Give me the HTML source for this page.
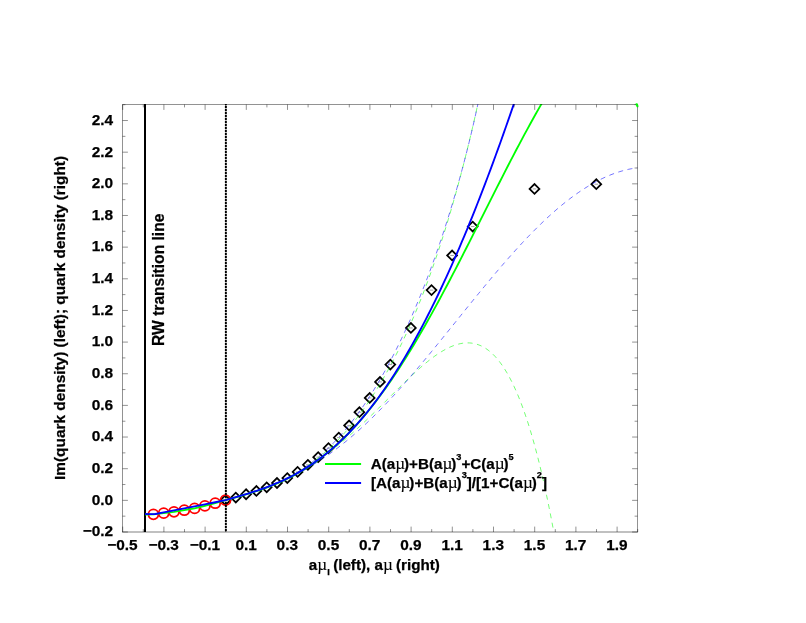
<!DOCTYPE html>
<html><head><meta charset="utf-8"><title>plot</title>
<style>
html,body{margin:0;padding:0;background:#fff;}
body{width:806px;height:623px;overflow:hidden;font-family:"Liberation Sans",sans-serif;}
svg{display:block;}
text{font-family:"Liberation Sans",sans-serif;font-weight:bold;font-size:15.4px;fill:#000;stroke:#000;stroke-width:0.25px;}
.lg{font-size:15.2px;}
.rw{font-size:15.6px;}
svg{will-change:transform;}
.mu{font-family:"Liberation Serif",serif;font-weight:normal;font-size:17.2px;letter-spacing:-1.1px;stroke-width:0.1px;}
.sup{font-size:9.2px;}
</style></head><body>
<svg width="806" height="623" viewBox="0 0 806 623">
<rect width="806" height="623" fill="#fff"/>
<defs><clipPath id="c"><rect x="122.5" y="104.0" width="515.0" height="427.8"/></clipPath></defs>
<g fill="none" stroke="#000" stroke-width="1.75">
<path d="M220.60,500.15 L225.50,495.25 L230.40,500.15 L225.50,505.05 Z"/>
<path d="M230.90,497.52 L235.80,492.62 L240.70,497.52 L235.80,502.42 Z"/>
<path d="M241.20,494.25 L246.10,489.35 L251.00,494.25 L246.10,499.15 Z"/>
<path d="M251.50,490.97 L256.40,486.07 L261.30,490.97 L256.40,495.87 Z"/>
<path d="M261.80,487.30 L266.70,482.40 L271.60,487.30 L266.70,492.20 Z"/>
<path d="M272.10,482.99 L277.00,478.09 L281.90,482.99 L277.00,487.89 Z"/>
<path d="M282.40,478.06 L287.30,473.16 L292.20,478.06 L287.30,482.96 Z"/>
<path d="M292.70,471.90 L297.60,467.00 L302.50,471.90 L297.60,476.80 Z"/>
<path d="M303.00,464.84 L307.90,459.94 L312.80,464.84 L307.90,469.74 Z"/>
<path d="M313.30,457.13 L318.20,452.23 L323.10,457.13 L318.20,462.03 Z"/>
<path d="M323.60,448.14 L328.50,443.24 L333.40,448.14 L328.50,453.04 Z"/>
<path d="M333.90,437.64 L338.80,432.74 L343.70,437.64 L338.80,442.54 Z"/>
<path d="M344.20,425.43 L349.10,420.53 L354.00,425.43 L349.10,430.33 Z"/>
<path d="M354.50,412.20 L359.40,407.30 L364.30,412.20 L359.40,417.10 Z"/>
<path d="M364.80,397.93 L369.70,393.03 L374.60,397.93 L369.70,402.83 Z"/>
<path d="M375.10,381.93 L380.00,377.03 L384.90,381.93 L380.00,386.83 Z"/>
<path d="M385.40,364.58 L390.30,359.68 L395.20,364.58 L390.30,369.48 Z"/>
<path d="M406.00,327.96 L410.90,323.06 L415.80,327.96 L410.90,332.86 Z"/>
<path d="M426.60,290.11 L431.50,285.21 L436.40,290.11 L431.50,295.01 Z"/>
<path d="M447.20,255.48 L452.10,250.58 L457.00,255.48 L452.10,260.38 Z"/>
<path d="M467.80,226.52 L472.70,221.62 L477.60,226.52 L472.70,231.42 Z"/>
<path d="M529.60,188.93 L534.50,184.03 L539.40,188.93 L534.50,193.83 Z"/>
<path d="M591.40,184.20 L596.30,179.30 L601.20,184.20 L596.30,189.10 Z"/>
</g>
<g stroke="#555" stroke-width="0.55">
<line x1="223.70" y1="500.15" x2="227.30" y2="500.15"/>
<line x1="234.00" y1="497.52" x2="237.60" y2="497.52"/>
<line x1="244.30" y1="494.25" x2="247.90" y2="494.25"/>
<line x1="254.60" y1="490.97" x2="258.20" y2="490.97"/>
<line x1="264.90" y1="487.30" x2="268.50" y2="487.30"/>
<line x1="275.20" y1="482.99" x2="278.80" y2="482.99"/>
<line x1="285.50" y1="478.06" x2="289.10" y2="478.06"/>
<line x1="295.80" y1="471.90" x2="299.40" y2="471.90"/>
<line x1="306.10" y1="464.84" x2="309.70" y2="464.84"/>
<line x1="316.40" y1="457.13" x2="320.00" y2="457.13"/>
<line x1="326.70" y1="448.14" x2="330.30" y2="448.14"/>
<line x1="337.00" y1="437.64" x2="340.60" y2="437.64"/>
<line x1="347.30" y1="425.43" x2="350.90" y2="425.43"/>
<line x1="357.60" y1="412.20" x2="361.20" y2="412.20"/>
<line x1="367.90" y1="397.93" x2="371.50" y2="397.93"/>
<line x1="378.20" y1="381.93" x2="381.80" y2="381.93"/>
<line x1="388.50" y1="364.58" x2="392.10" y2="364.58"/>
<line x1="409.10" y1="327.96" x2="412.70" y2="327.96"/>
<line x1="429.70" y1="290.11" x2="433.30" y2="290.11"/>
<line x1="450.30" y1="255.48" x2="453.90" y2="255.48"/>
<line x1="470.90" y1="226.52" x2="474.50" y2="226.52"/>
<line x1="532.70" y1="188.93" x2="536.30" y2="188.93"/>
<line x1="594.50" y1="184.20" x2="598.10" y2="184.20"/>
</g>
<g fill="none" stroke="#ff0000" stroke-width="1.8">
<circle cx="153.40" cy="514.31" r="5.0"/>
<circle cx="163.70" cy="513.13" r="5.0"/>
<circle cx="174.00" cy="511.81" r="5.0"/>
<circle cx="184.30" cy="510.21" r="5.0"/>
<circle cx="194.60" cy="508.41" r="5.0"/>
<circle cx="204.90" cy="505.91" r="5.0"/>
<circle cx="215.20" cy="503.22" r="5.0"/>
<circle cx="225.50" cy="500.15" r="5.0"/>
</g>
<line x1="145" y1="104.0" x2="145" y2="532.1" stroke="#000" stroke-width="2"/>
<line x1="225.85" y1="104.5" x2="225.85" y2="532.1" stroke="#000" stroke-opacity="0.3" stroke-width="1.7"/>
<line x1="225.85" y1="104" x2="225.85" y2="532.1" stroke="#000" stroke-width="1.9" stroke-dasharray="2.2 0.8" stroke-dashoffset="1.1"/>
<g clip-path="url(#c)" fill="none">
<path d="M287.30,477.97 L289.03,477.07 L290.76,476.15 L292.49,475.20 L294.22,474.23 L295.96,473.23 L297.69,472.21 L299.42,471.16 L301.15,470.09 L302.88,468.99 L304.61,467.86 L306.34,466.71 L308.07,465.52 L309.80,464.31 L311.54,463.07 L313.27,461.80 L315.00,460.49 L316.73,459.16 L318.46,457.79 L320.19,456.39 L321.92,454.96 L323.65,453.49 L325.38,451.99 L327.12,450.46 L328.85,448.89 L330.58,447.29 L332.31,445.65 L334.04,443.97 L335.77,442.25 L337.50,440.50 L339.23,438.71 L340.96,436.88 L342.69,435.01 L344.43,433.10 L346.16,431.15 L347.89,429.16 L349.62,427.13 L351.35,425.05 L353.08,422.93 L354.81,420.77 L356.54,418.57 L358.27,416.32 L360.01,414.02 L361.74,411.68 L363.47,409.30 L365.20,406.86 L366.93,404.38 L368.66,401.85 L370.39,399.27 L372.12,396.65 L373.85,393.97 L375.59,391.24 L377.32,388.46 L379.05,385.63 L380.78,382.74 L382.51,379.80 L384.24,376.81 L385.97,373.76 L387.70,370.66 L389.43,367.50 L391.17,364.28 L392.90,361.01 L394.63,357.67 L396.36,354.28 L398.09,350.82 L399.82,347.31 L401.55,343.73 L403.28,340.09 L405.01,336.38 L406.75,332.61 L408.48,328.77 L410.21,324.86 L411.94,320.89 L413.67,316.84 L415.40,312.73 L417.13,308.54 L418.86,304.28 L420.59,299.95 L422.33,295.54 L424.06,291.05 L425.79,286.49 L427.52,281.84 L429.25,277.12 L430.98,272.31 L432.71,267.42 L434.44,262.44 L436.17,257.38 L437.91,252.23 L439.64,246.98 L441.37,241.65 L443.10,236.22 L444.83,230.70 L446.56,225.07 L448.29,219.35 L450.02,213.53 L451.75,207.60 L453.48,201.57 L455.22,195.43 L456.95,189.18 L458.68,182.82 L460.41,176.35 L462.14,169.75 L463.87,163.04 L465.60,156.20 L467.33,149.24 L469.06,142.16 L470.80,134.94 L472.53,127.59 L474.26,120.10 L475.99,112.47 L477.72,104.70 L479.45,96.79 L481.18,88.72 L482.91,80.51 L484.64,72.14 L486.38,63.61 L488.11,54.91 L489.84,46.05 L491.57,37.02 L493.30,27.81" stroke="#00ff00" stroke-dashoffset="4.75" stroke-dasharray="5 4.5" stroke-width="0.55"/>
<path d="M287.30,477.79 L289.64,476.64 L291.97,475.47 L294.31,474.26 L296.65,473.01 L298.98,471.74 L301.32,470.43 L303.66,469.09 L306.00,467.71 L308.33,466.29 L310.67,464.85 L313.01,463.36 L315.34,461.84 L317.68,460.29 L320.02,458.69 L322.35,457.07 L324.69,455.40 L327.03,453.70 L329.37,451.96 L331.70,450.19 L334.04,448.39 L336.38,446.54 L338.71,444.67 L341.05,442.76 L343.39,440.81 L345.72,438.84 L348.06,436.83 L350.40,434.79 L352.74,432.72 L355.07,430.62 L357.41,428.50 L359.75,426.35 L362.08,424.17 L364.42,421.97 L366.76,419.75 L369.09,417.51 L371.43,415.24 L373.77,412.96 L376.11,410.67 L378.44,408.36 L380.78,406.04 L383.12,403.72 L385.45,401.38 L387.79,399.05 L390.13,396.71 L392.46,394.37 L394.80,392.03 L397.14,389.71 L399.47,387.39 L401.81,385.09 L404.15,382.80 L406.49,380.53 L408.82,378.29 L411.16,376.07 L413.50,373.89 L415.83,371.74 L418.17,369.62 L420.51,367.55 L422.84,365.53 L425.18,363.56 L427.52,361.65 L429.86,359.79 L432.19,358.01 L434.53,356.29 L436.87,354.65 L439.20,353.09 L441.54,351.62 L443.88,350.24 L446.21,348.96 L448.55,347.78 L450.89,346.71 L453.23,345.76 L455.56,344.94 L457.90,344.24 L460.24,343.68 L462.57,343.26 L464.91,342.99 L467.25,342.88 L469.58,342.93 L471.92,343.15 L474.26,343.56 L476.59,344.15 L478.93,344.94 L481.27,345.93 L483.61,347.14 L485.94,348.56 L488.28,350.22 L490.62,352.11 L492.95,354.25 L495.29,356.65 L497.63,359.32 L499.96,362.26 L502.30,365.49 L504.64,369.02 L506.98,372.85 L509.31,377.00 L511.65,381.48 L513.99,386.30 L516.32,391.46 L518.66,396.99 L521.00,402.89 L523.33,409.18 L525.67,415.86 L528.01,422.95 L530.35,430.46 L532.68,438.41 L535.02,446.80 L537.36,455.65 L539.69,464.97 L542.03,474.78 L544.37,485.08 L546.70,495.90 L549.04,507.25 L551.38,519.14 L553.72,531.59 L556.05,544.60 L558.39,558.20 L560.73,572.41 L563.06,587.23 L565.40,602.68" stroke="#00ff00" stroke-dasharray="5 4.5" stroke-width="0.55"/>
<path d="M287.30,478.23 L289.03,477.30 L290.76,476.34 L292.49,475.36 L294.22,474.34 L295.96,473.30 L297.69,472.24 L299.42,471.14 L301.15,470.01 L302.88,468.86 L304.61,467.67 L306.34,466.46 L308.07,465.21 L309.80,463.93 L311.54,462.61 L313.27,461.27 L315.00,459.89 L316.73,458.48 L318.46,457.03 L320.19,455.55 L321.92,454.03 L323.65,452.48 L325.38,450.89 L327.12,449.26 L328.85,447.59 L330.58,445.89 L332.31,444.15 L334.04,442.37 L335.77,440.55 L337.50,438.70 L339.23,436.80 L340.96,434.86 L342.69,432.88 L344.43,430.86 L346.16,428.80 L347.89,426.70 L349.62,424.55 L351.35,422.37 L353.08,420.14 L354.81,417.86 L356.54,415.54 L358.27,413.18 L360.01,410.77 L361.74,408.32 L363.47,405.82 L365.20,403.28 L366.93,400.69 L368.66,398.05 L370.39,395.37 L372.12,392.64 L373.85,389.86 L375.59,387.04 L377.32,384.16 L379.05,381.24 L380.78,378.27 L382.51,375.24 L384.24,372.17 L385.97,369.05 L387.70,365.87 L389.43,362.65 L391.17,359.37 L392.90,356.04 L394.63,352.66 L396.36,349.22 L398.09,345.73 L399.82,342.19 L401.55,338.59 L403.28,334.93 L405.01,331.22 L406.75,327.45 L408.48,323.62 L410.21,319.73 L411.94,315.79 L413.67,311.78 L415.40,307.71 L417.13,303.58 L418.86,299.39 L420.59,295.14 L422.33,290.81 L424.06,286.43 L425.79,281.97 L427.52,277.45 L429.25,272.85 L430.98,268.19 L432.71,263.45 L434.44,258.64 L436.17,253.75 L437.91,248.78 L439.64,243.73 L441.37,238.59 L443.10,233.38 L444.83,228.07 L446.56,222.67 L448.29,217.18 L450.02,211.59 L451.75,205.91 L453.48,200.11 L455.22,194.21 L456.95,188.20 L458.68,182.07 L460.41,175.81 L462.14,169.43 L463.87,162.91 L465.60,156.25 L467.33,149.44 L469.06,142.47 L470.80,135.34 L472.53,128.02 L474.26,120.52 L475.99,112.82 L477.72,104.90 L479.45,96.75 L481.18,88.36 L482.91,79.70 L484.64,70.75 L486.38,61.48 L488.11,51.88 L489.84,41.90 L491.57,31.52 L493.30,20.68" stroke="#0000ff" stroke-dasharray="5 4.5" stroke-width="0.55"/>
<path d="M287.30,478.49 L290.24,477.11 L293.19,475.69 L296.13,474.22 L299.07,472.70 L302.01,471.13 L304.96,469.51 L307.90,467.84 L310.84,466.12 L313.79,464.35 L316.73,462.52 L319.67,460.64 L322.61,458.70 L325.56,456.71 L328.50,454.66 L331.44,452.56 L334.39,450.40 L337.33,448.18 L340.27,445.91 L343.21,443.58 L346.16,441.20 L349.10,438.76 L352.04,436.27 L354.99,433.72 L357.93,431.12 L360.87,428.46 L363.81,425.76 L366.76,423.00 L369.70,420.19 L372.64,417.32 L375.59,414.42 L378.53,411.46 L381.47,408.45 L384.41,405.40 L387.36,402.31 L390.30,399.17 L393.24,395.99 L396.19,392.78 L399.13,389.52 L402.07,386.22 L405.01,382.89 L407.96,379.53 L410.90,376.14 L413.84,372.71 L416.79,369.26 L419.73,365.77 L422.67,362.27 L425.61,358.74 L428.56,355.19 L431.50,351.62 L434.44,348.03 L437.39,344.43 L440.33,340.82 L443.27,337.19 L446.21,333.55 L449.16,329.91 L452.10,326.26 L455.04,322.61 L457.99,318.96 L460.93,315.30 L463.87,311.66 L466.81,308.01 L469.76,304.37 L472.70,300.75 L475.64,297.13 L478.59,293.53 L481.53,289.94 L484.47,286.37 L487.41,282.81 L490.36,279.28 L493.30,275.78 L496.24,272.29 L499.19,268.84 L502.13,265.41 L505.07,262.02 L508.01,258.66 L510.96,255.33 L513.90,252.04 L516.84,248.78 L519.79,245.57 L522.73,242.40 L525.67,239.28 L528.61,236.20 L531.56,233.16 L534.50,230.18 L537.44,227.25 L540.39,224.37 L543.33,221.54 L546.27,218.77 L549.21,216.05 L552.16,213.40 L555.10,210.80 L558.04,208.27 L560.99,205.80 L563.93,203.39 L566.87,201.05 L569.81,198.78 L572.76,196.57 L575.70,194.44 L578.64,192.38 L581.59,190.39 L584.53,188.47 L587.47,186.63 L590.41,184.86 L593.36,183.17 L596.30,181.56 L599.24,180.03 L602.19,178.58 L605.13,177.21 L608.07,175.92 L611.01,174.71 L613.96,173.59 L616.90,172.56 L619.84,171.61 L622.79,170.75 L625.73,169.97 L628.67,169.29 L631.61,168.69 L634.56,168.19 L637.50,167.77" stroke="#0000ff" stroke-dasharray="5 4.5" stroke-width="0.55"/>
<path d="M145.16,514.47 L153.40,514.31 L163.70,513.13 L174.00,511.81 L184.30,510.21 L194.60,508.41 L204.90,505.91 L215.20,503.22 L225.50,500.15 L225.50,500.15 L228.27,499.39 L231.04,498.62 L233.81,497.85 L236.58,497.08 L239.35,496.29 L242.12,495.49 L244.89,494.68 L247.66,493.84 L250.43,492.99 L253.20,492.12 L255.97,491.22 L258.74,490.30 L261.51,489.35 L264.28,488.36 L267.05,487.34 L269.82,486.29 L272.59,485.20 L275.36,484.06 L278.13,482.89 L280.89,481.67 L283.66,480.40 L286.43,479.09 L289.20,477.72 L291.97,476.31 L294.74,474.83 L297.51,473.31 L300.28,471.72 L303.05,470.07 L305.82,468.37 L308.59,466.60 L311.36,464.76 L314.13,462.87 L316.90,460.90 L319.67,458.86 L322.44,456.76 L325.21,454.58 L327.98,452.34 L330.75,450.02 L333.52,447.62 L336.29,445.15 L339.06,442.61 L341.83,439.99 L344.60,437.29 L347.37,434.52 L350.14,431.66 L352.91,428.73 L355.68,425.72 L358.45,422.63 L361.22,419.46 L363.99,416.21 L366.76,412.89 L369.53,409.48 L372.30,406.00 L375.07,402.43 L377.84,398.79 L380.61,395.07 L383.38,391.27 L386.15,387.40 L388.92,383.45 L391.68,379.43 L394.45,375.33 L397.22,371.16 L399.99,366.91 L402.76,362.60 L405.53,358.21 L408.30,353.76 L411.07,349.24 L413.84,344.66 L416.61,340.01 L419.38,335.30 L422.15,330.53 L424.92,325.70 L427.69,320.81 L430.46,315.87 L433.23,310.88 L436.00,305.84 L438.77,300.75 L441.54,295.61 L444.31,290.43 L447.08,285.22 L449.85,279.96 L452.62,274.66 L455.39,269.34 L458.16,263.98 L460.93,258.60 L463.70,253.19 L466.47,247.76 L469.24,242.31 L472.01,236.84 L474.78,231.36 L477.55,225.87 L480.32,220.38 L483.09,214.88 L485.86,209.38 L488.63,203.89 L491.40,198.40 L494.17,192.92 L496.94,187.45 L499.71,182.00 L502.47,176.57 L505.24,171.16 L508.01,165.77 L510.78,160.42 L513.55,155.09 L516.32,149.80 L519.09,144.56 L521.86,139.35 L524.63,134.18 L527.40,129.07 L530.17,124.01 L532.94,119.00 L535.71,114.04 L538.48,109.15 L541.25,104.32 L544.02,99.56 L546.79,94.86 L549.56,90.23 L552.33,85.68 L555.10,81.20" stroke="#00ff00" stroke-width="1.85" stroke-linejoin="round"/>
<path d="M145.16,514.01 L149.28,514.15 L155.46,514.01 L163.70,512.41 L174.00,510.43 L184.30,508.46 L194.60,506.40 L204.90,504.34 L215.20,502.28 L225.50,500.15 L225.50,500.15 L228.10,499.41 L230.69,498.67 L233.29,497.93 L235.89,497.19 L238.48,496.43 L241.08,495.67 L243.68,494.89 L246.27,494.10 L248.87,493.30 L251.47,492.47 L254.06,491.63 L256.66,490.77 L259.26,489.88 L261.85,488.97 L264.45,488.03 L267.05,487.07 L269.64,486.07 L272.24,485.05 L274.84,483.98 L277.43,482.89 L280.03,481.75 L282.63,480.58 L285.22,479.37 L287.82,478.11 L290.42,476.81 L293.01,475.47 L295.61,474.08 L298.21,472.64 L300.80,471.15 L303.40,469.61 L306.00,468.01 L308.59,466.37 L311.19,464.66 L313.79,462.90 L316.38,461.08 L318.98,459.21 L321.58,457.27 L324.17,455.27 L326.77,453.20 L329.37,451.08 L331.96,448.88 L334.56,446.62 L337.16,444.30 L339.75,441.90 L342.35,439.44 L344.95,436.90 L347.54,434.29 L350.14,431.62 L352.74,428.86 L355.33,426.04 L357.93,423.14 L360.53,420.17 L363.12,417.12 L365.72,413.99 L368.32,410.79 L370.91,407.51 L373.51,404.15 L376.11,400.71 L378.70,397.20 L381.30,393.60 L383.89,389.93 L386.49,386.17 L389.09,382.34 L391.68,378.42 L394.28,374.42 L396.88,370.35 L399.47,366.19 L402.07,361.94 L404.67,357.62 L407.26,353.22 L409.86,348.73 L412.46,344.16 L415.05,339.51 L417.65,334.78 L420.25,329.97 L422.84,325.07 L425.44,320.09 L428.04,315.03 L430.63,309.89 L433.23,304.67 L435.83,299.37 L438.42,293.99 L441.02,288.52 L443.62,282.98 L446.21,277.35 L448.81,271.65 L451.41,265.87 L454.00,260.00 L456.60,254.06 L459.20,248.04 L461.79,241.94 L464.39,235.77 L466.99,229.52 L469.58,223.19 L472.18,216.78 L474.78,210.30 L477.37,203.74 L479.97,197.11 L482.57,190.41 L485.16,183.63 L487.76,176.78 L490.36,169.85 L492.95,162.85 L495.55,155.79 L498.15,148.65 L500.74,141.44 L503.34,134.16 L505.94,126.81 L508.53,119.39 L511.13,111.91 L513.73,104.35 L516.32,96.73 L518.92,89.05 L521.52,81.30 L524.11,73.48 L526.71,65.60 L529.31,57.66 L531.90,49.66 L534.50,41.59" stroke="#0000ff" stroke-width="1.85" stroke-linejoin="round"/>
</g>
<g stroke="#000" stroke-width="0.43" fill="none">
<path d="M122.5,532.2 L122.5,104.5 L637.5,104.5 L637.5,532.2"/>
<line x1="122.3" y1="532" x2="637.7" y2="532" stroke-width="0.5"/>
<line x1="122.70" y1="532" x2="122.70" y2="526.6"/>
<line x1="122.70" y1="104.5" x2="122.70" y2="109.9"/>
<line x1="143.30" y1="532" x2="143.30" y2="529.1"/>
<line x1="143.30" y1="104.5" x2="143.30" y2="107.4"/>
<line x1="163.90" y1="532" x2="163.90" y2="526.6"/>
<line x1="163.90" y1="104.5" x2="163.90" y2="109.9"/>
<line x1="184.50" y1="532" x2="184.50" y2="529.1"/>
<line x1="184.50" y1="104.5" x2="184.50" y2="107.4"/>
<line x1="205.10" y1="532" x2="205.10" y2="526.6"/>
<line x1="205.10" y1="104.5" x2="205.10" y2="109.9"/>
<line x1="225.70" y1="532" x2="225.70" y2="529.1"/>
<line x1="225.70" y1="104.5" x2="225.70" y2="107.4"/>
<line x1="246.30" y1="532" x2="246.30" y2="526.6"/>
<line x1="246.30" y1="104.5" x2="246.30" y2="109.9"/>
<line x1="266.90" y1="532" x2="266.90" y2="529.1"/>
<line x1="266.90" y1="104.5" x2="266.90" y2="107.4"/>
<line x1="287.50" y1="532" x2="287.50" y2="526.6"/>
<line x1="287.50" y1="104.5" x2="287.50" y2="109.9"/>
<line x1="308.10" y1="532" x2="308.10" y2="529.1"/>
<line x1="308.10" y1="104.5" x2="308.10" y2="107.4"/>
<line x1="328.70" y1="532" x2="328.70" y2="526.6"/>
<line x1="328.70" y1="104.5" x2="328.70" y2="109.9"/>
<line x1="349.30" y1="532" x2="349.30" y2="529.1"/>
<line x1="349.30" y1="104.5" x2="349.30" y2="107.4"/>
<line x1="369.90" y1="532" x2="369.90" y2="526.6"/>
<line x1="369.90" y1="104.5" x2="369.90" y2="109.9"/>
<line x1="390.50" y1="532" x2="390.50" y2="529.1"/>
<line x1="390.50" y1="104.5" x2="390.50" y2="107.4"/>
<line x1="411.10" y1="532" x2="411.10" y2="526.6"/>
<line x1="411.10" y1="104.5" x2="411.10" y2="109.9"/>
<line x1="431.70" y1="532" x2="431.70" y2="529.1"/>
<line x1="431.70" y1="104.5" x2="431.70" y2="107.4"/>
<line x1="452.30" y1="532" x2="452.30" y2="526.6"/>
<line x1="452.30" y1="104.5" x2="452.30" y2="109.9"/>
<line x1="472.90" y1="532" x2="472.90" y2="529.1"/>
<line x1="472.90" y1="104.5" x2="472.90" y2="107.4"/>
<line x1="493.50" y1="532" x2="493.50" y2="526.6"/>
<line x1="493.50" y1="104.5" x2="493.50" y2="109.9"/>
<line x1="514.10" y1="532" x2="514.10" y2="529.1"/>
<line x1="514.10" y1="104.5" x2="514.10" y2="107.4"/>
<line x1="534.70" y1="532" x2="534.70" y2="526.6"/>
<line x1="534.70" y1="104.5" x2="534.70" y2="109.9"/>
<line x1="555.30" y1="532" x2="555.30" y2="529.1"/>
<line x1="555.30" y1="104.5" x2="555.30" y2="107.4"/>
<line x1="575.90" y1="532" x2="575.90" y2="526.6"/>
<line x1="575.90" y1="104.5" x2="575.90" y2="109.9"/>
<line x1="596.50" y1="532" x2="596.50" y2="529.1"/>
<line x1="596.50" y1="104.5" x2="596.50" y2="107.4"/>
<line x1="617.10" y1="532" x2="617.10" y2="526.6"/>
<line x1="617.10" y1="104.5" x2="617.10" y2="109.9"/>
<line x1="637.70" y1="532" x2="637.70" y2="529.1"/>
<line x1="637.70" y1="104.5" x2="637.70" y2="107.4"/>
<line x1="122.5" y1="532.00" x2="127.9" y2="532.00"/>
<line x1="637.5" y1="532.00" x2="632.1" y2="532.00"/>
<line x1="122.5" y1="516.17" x2="125.4" y2="516.17"/>
<line x1="637.5" y1="516.17" x2="634.6" y2="516.17"/>
<line x1="122.5" y1="500.35" x2="127.9" y2="500.35"/>
<line x1="637.5" y1="500.35" x2="632.1" y2="500.35"/>
<line x1="122.5" y1="484.52" x2="125.4" y2="484.52"/>
<line x1="637.5" y1="484.52" x2="634.6" y2="484.52"/>
<line x1="122.5" y1="468.70" x2="127.9" y2="468.70"/>
<line x1="637.5" y1="468.70" x2="632.1" y2="468.70"/>
<line x1="122.5" y1="452.87" x2="125.4" y2="452.87"/>
<line x1="637.5" y1="452.87" x2="634.6" y2="452.87"/>
<line x1="122.5" y1="437.04" x2="127.9" y2="437.04"/>
<line x1="637.5" y1="437.04" x2="632.1" y2="437.04"/>
<line x1="122.5" y1="421.22" x2="125.4" y2="421.22"/>
<line x1="637.5" y1="421.22" x2="634.6" y2="421.22"/>
<line x1="122.5" y1="405.39" x2="127.9" y2="405.39"/>
<line x1="637.5" y1="405.39" x2="632.1" y2="405.39"/>
<line x1="122.5" y1="389.57" x2="125.4" y2="389.57"/>
<line x1="637.5" y1="389.57" x2="634.6" y2="389.57"/>
<line x1="122.5" y1="373.74" x2="127.9" y2="373.74"/>
<line x1="637.5" y1="373.74" x2="632.1" y2="373.74"/>
<line x1="122.5" y1="357.91" x2="125.4" y2="357.91"/>
<line x1="637.5" y1="357.91" x2="634.6" y2="357.91"/>
<line x1="122.5" y1="342.09" x2="127.9" y2="342.09"/>
<line x1="637.5" y1="342.09" x2="632.1" y2="342.09"/>
<line x1="122.5" y1="326.26" x2="125.4" y2="326.26"/>
<line x1="637.5" y1="326.26" x2="634.6" y2="326.26"/>
<line x1="122.5" y1="310.44" x2="127.9" y2="310.44"/>
<line x1="637.5" y1="310.44" x2="632.1" y2="310.44"/>
<line x1="122.5" y1="294.61" x2="125.4" y2="294.61"/>
<line x1="637.5" y1="294.61" x2="634.6" y2="294.61"/>
<line x1="122.5" y1="278.79" x2="127.9" y2="278.79"/>
<line x1="637.5" y1="278.79" x2="632.1" y2="278.79"/>
<line x1="122.5" y1="262.96" x2="125.4" y2="262.96"/>
<line x1="637.5" y1="262.96" x2="634.6" y2="262.96"/>
<line x1="122.5" y1="247.13" x2="127.9" y2="247.13"/>
<line x1="637.5" y1="247.13" x2="632.1" y2="247.13"/>
<line x1="122.5" y1="231.31" x2="125.4" y2="231.31"/>
<line x1="637.5" y1="231.31" x2="634.6" y2="231.31"/>
<line x1="122.5" y1="215.48" x2="127.9" y2="215.48"/>
<line x1="637.5" y1="215.48" x2="632.1" y2="215.48"/>
<line x1="122.5" y1="199.66" x2="125.4" y2="199.66"/>
<line x1="637.5" y1="199.66" x2="634.6" y2="199.66"/>
<line x1="122.5" y1="183.83" x2="127.9" y2="183.83"/>
<line x1="637.5" y1="183.83" x2="632.1" y2="183.83"/>
<line x1="122.5" y1="168.00" x2="125.4" y2="168.00"/>
<line x1="637.5" y1="168.00" x2="634.6" y2="168.00"/>
<line x1="122.5" y1="152.18" x2="127.9" y2="152.18"/>
<line x1="637.5" y1="152.18" x2="632.1" y2="152.18"/>
<line x1="122.5" y1="136.35" x2="125.4" y2="136.35"/>
<line x1="637.5" y1="136.35" x2="634.6" y2="136.35"/>
<line x1="122.5" y1="120.53" x2="127.9" y2="120.53"/>
<line x1="637.5" y1="120.53" x2="632.1" y2="120.53"/>
<line x1="122.5" y1="104.70" x2="125.4" y2="104.70"/>
<line x1="637.5" y1="104.70" x2="634.6" y2="104.70"/>
</g>
<path d="M636.3,103.4 L637.7,106.9" stroke="#00ff00" stroke-width="2" fill="none"/>
<text x="122.5" y="549.6" text-anchor="middle">−0.5</text>
<text x="163.7" y="549.6" text-anchor="middle">−0.3</text>
<text x="204.9" y="549.6" text-anchor="middle">−0.1</text>
<text x="246.1" y="549.6" text-anchor="middle">0.1</text>
<text x="287.3" y="549.6" text-anchor="middle">0.3</text>
<text x="328.5" y="549.6" text-anchor="middle">0.5</text>
<text x="369.7" y="549.6" text-anchor="middle">0.7</text>
<text x="410.9" y="549.6" text-anchor="middle">0.9</text>
<text x="452.1" y="549.6" text-anchor="middle">1.1</text>
<text x="493.3" y="549.6" text-anchor="middle">1.3</text>
<text x="534.5" y="549.6" text-anchor="middle">1.5</text>
<text x="575.7" y="549.6" text-anchor="middle">1.7</text>
<text x="616.9" y="549.6" text-anchor="middle">1.9</text>
<text x="113.2" y="536.3" text-anchor="end">−0.2</text>
<text x="113.2" y="504.6" text-anchor="end">0.0</text>
<text x="113.2" y="473.0" text-anchor="end">0.2</text>
<text x="113.2" y="441.3" text-anchor="end">0.4</text>
<text x="113.2" y="409.7" text-anchor="end">0.6</text>
<text x="113.2" y="378.0" text-anchor="end">0.8</text>
<text x="113.2" y="346.4" text-anchor="end">1.0</text>
<text x="113.2" y="314.7" text-anchor="end">1.2</text>
<text x="113.2" y="283.1" text-anchor="end">1.4</text>
<text x="113.2" y="251.4" text-anchor="end">1.6</text>
<text x="113.2" y="219.8" text-anchor="end">1.8</text>
<text x="113.2" y="188.1" text-anchor="end">2.0</text>
<text x="113.2" y="156.5" text-anchor="end">2.2</text>
<text x="113.2" y="124.8" text-anchor="end">2.4</text>
<text class="lg" x="308.7" y="570.4">a<tspan class="mu">µ</tspan><tspan class="sup" dy="4.6" dx="1.2">I</tspan><tspan dy="-4.6" dx="-0.8"> (left), a</tspan><tspan class="mu">µ</tspan> (right)</text>
<text transform="translate(65.4,480.0) rotate(-90)">Im(quark density) (left); quark density (right)</text>
<text class="rw" transform="translate(164.1,345.9) rotate(-90)">RW transition line</text>
<line x1="325" y1="464" x2="361.1" y2="464" stroke="#00ff00" stroke-width="2"/>
<line x1="325" y1="483" x2="361.1" y2="483" stroke="#0000ff" stroke-width="2"/>
<text class="lg" x="370.7" y="469.3">A(a<tspan class="mu">µ</tspan>)+B(a<tspan class="mu">µ</tspan>)<tspan class="sup" dy="-9.6">3</tspan><tspan dy="9.6">+C(a</tspan><tspan class="mu">µ</tspan>)<tspan class="sup" dy="-9.6">5</tspan></text>
<text class="lg" x="371.0" y="487.7">[A(a<tspan class="mu">µ</tspan>)+B(a<tspan class="mu">µ</tspan>)<tspan class="sup" dy="-9.6">3</tspan><tspan dy="9.6">]/[1+C(a</tspan><tspan class="mu">µ</tspan>)<tspan class="sup" dy="-9.6">2</tspan><tspan dy="9.6">]</tspan></text>
</svg></body></html>
